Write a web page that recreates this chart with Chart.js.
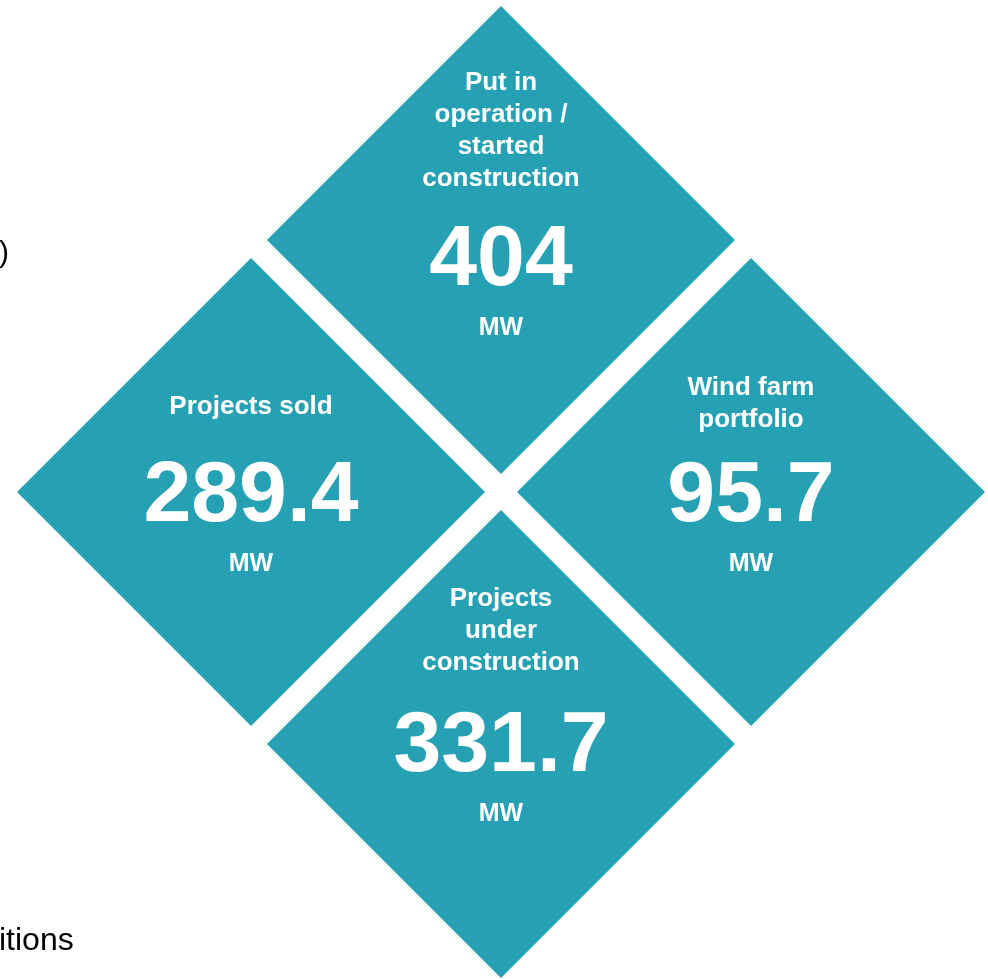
<!DOCTYPE html>
<html>
<head>
<meta charset="utf-8">
<style>
  html, body { margin: 0; padding: 0; background: #ffffff; }
  #wrap { position: relative; width: 988px; height: 979px; }
</style>
<script src="https://cdn.jsdelivr.net/npm/chart.js@4/dist/chart.umd.min.js"></script>
</head>
<body>
<div id="wrap"><canvas id="c" width="988" height="979"></canvas></div>
<script>
// ---- data ----
const categories = [
  "Put in operation / started construction",
  "Projects sold",
  "Wind farm portfolio",
  "Projects under construction"
];
const titleLines = [
  ["Put in", "operation /", "started", "construction"],
  ["Projects sold"],
  ["Wind farm", "portfolio"],
  ["Projects", "under", "construction"]
];
const values = [404, 289.4, 95.7, 331.7];
const unit = "MW";
const leftEdgeTexts = [")", "itions"];

// ---- layout (diamond grid: top, left, right, bottom) ----
const gridX = [0, -1, 1, 0];
const gridY = [1, 0, 0, -1];
const numberDy = [17, 1, 1, -1];
const titleGap = [78, 86, 73, 80];

const TEAL = "rgb(38,161,180)";
const FONT = "'Liberation Sans', Arial, sans-serif";

const points = values.map((v, i) => ({ x: gridX[i], y: gridY[i], v: v }));

const labelPlugin = {
  id: "diamondLabels",
  afterDatasetsDraw(chart) {
    const ctx = chart.ctx;
    const meta = chart.getDatasetMeta(0);
    ctx.save();
    ctx.fillStyle = "#ffffff";
    ctx.textAlign = "center";
    ctx.textBaseline = "middle";
    meta.data.forEach((pt, i) => {
      const cx = pt.x, cy = pt.y;
      const ny = cy + numberDy[i];
      // big value
      ctx.font = "bold 86px " + FONT;
      ctx.fillText(String(values[i]), cx, ny + 4);
      // unit
      ctx.font = "bold 25px " + FONT;
      ctx.fillText(unit, cx, ny + 71);
      // title
      ctx.font = "bold 26px " + FONT;
      const lines = titleLines[i];
      const lastY = ny - titleGap[i];
      lines.forEach((ln, k) => {
        ctx.fillText(ln, cx, lastY - (lines.length - 1 - k) * 32);
      });
    });
    // cropped text fragments at left edge
    ctx.fillStyle = "#000000";
    ctx.textAlign = "left";
    ctx.textBaseline = "alphabetic";
    ctx.font = "30px " + FONT;
    ctx.fillText(leftEdgeTexts[0], -1, 262);
    ctx.font = "32px " + FONT;
    ctx.fillText(leftEdgeTexts[1], -1, 950);
    ctx.restore();
  }
};

new Chart(document.getElementById("c"), {
  type: "scatter",
  data: {
    labels: categories,
    datasets: [{
      label: "MW",
      data: points,
      pointStyle: "rectRot",
      pointRadius: 234,
      pointHoverRadius: 234,
      backgroundColor: TEAL,
      borderColor: TEAL,
      borderWidth: 0,
      clip: false
    }]
  },
  options: {
    responsive: false,
    animation: false,
    events: [],
    layout: { padding: 0, autoPadding: false },
    plugins: { legend: { display: false }, tooltip: { enabled: false } },
    scales: {
      x: { type: "linear", display: false, min: -2.004, max: 1.948 },
      y: { type: "linear", display: false, min: -1.933, max: 1.952 }
    }
  },
  plugins: [labelPlugin]
});
</script>
</body>
</html>
